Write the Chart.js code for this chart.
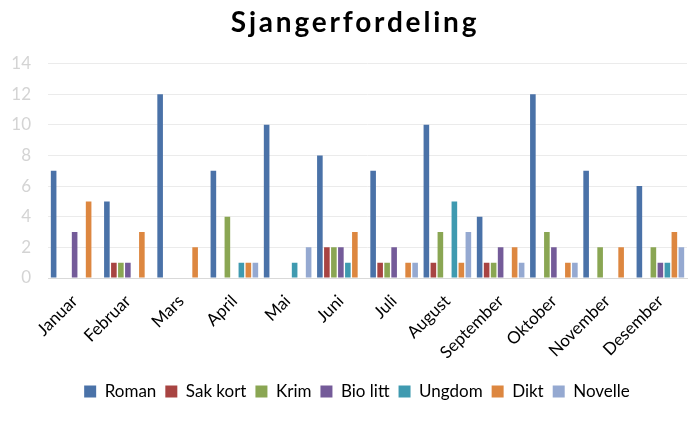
<!DOCTYPE html>
<html>
<head>
<meta charset="utf-8">
<script src="https://cdn.jsdelivr.net/npm/chart.js@4"></script>
<style>
html,body{margin:0;padding:0;background:#fff;}
#wrap{width:693px;height:423px;}
</style>
</head>
<body>
<div id="wrap"><canvas id="c" width="693" height="423"></canvas></div>
<script>
const months = ["Januar","Februar","Mars","April","Mai","Juni","Juli","August","September","Oktober","November","Desember"];
const roman   = [7,5,12,7,10,8,7,10,4,12,7,6];
const sakKort = [0,1,0,0,0,2,1,1,1,0,0,0];
const krim    = [0,1,0,4,0,2,1,3,1,3,2,2];
const bioLitt = [3,1,0,0,0,2,2,0,2,2,0,1];
const ungdom  = [0,0,0,1,1,1,0,5,0,0,0,1];
const dikt    = [5,3,2,1,0,3,1,1,2,1,2,3];
const novelle = [0,0,0,1,2,0,1,3,1,1,0,2];
const yTicks  = [0,2,4,6,8,10,12,14];

const series = [
  {label:"Roman", data:roman, color:"#4A72A8"},
  {label:"Sak kort", data:sakKort, color:"#A84442"},
  {label:"Krim", data:krim, color:"#8AA653"},
  {label:"Bio litt", data:bioLitt, color:"#745B99"},
  {label:"Ungdom", data:ungdom, color:"#3F9AB0"},
  {label:"Dikt", data:dikt, color:"#DD8740"},
  {label:"Novelle", data:novelle, color:"#95A9D1"}
];

const shiftBlocks = {
  id: 'shiftBlocks',
  afterInit(chart) {
    const wrap = (blk, dx, dy, spacing) => {
      if (!blk) return;
      const orig = blk.draw;
      blk.draw = function() {
        const ctx = this.ctx;
        ctx.save();
        ctx.translate(dx, dy);
        if (spacing) ctx.letterSpacing = spacing;
        orig.apply(this, arguments);
        ctx.restore();
      };
    };
    wrap(chart.titleBlock, 6, 1, '2.8px');
    wrap(chart.legend, 8, 0, null);
  }
};

new Chart(document.getElementById('c'), {
  type: 'bar',
  data: {
    labels: months,
    datasets: series.map(s => ({
      label: s.label, data: s.data,
      backgroundColor: s.color, borderWidth: 0,
      categoryPercentage: 0.92, barPercentage: 0.8
    }))
  },
  plugins: [shiftBlocks],
  options: {
    responsive: false,
    animation: false,
    layout: {padding: {left: 11, right: 6, top: 0, bottom: 13}},
    plugins: {
      title: {
        display: true, text: "Sjangerfordeling",
        color: "#000", font: {family: "Lato", size: 28, weight: "bold"},
        padding: {top: 5, bottom: 25}
      },
      legend: {
        position: 'bottom',
        labels: {
          color: "#000", font: {family: "Lato", size: 17},
          boxWidth: 12, boxHeight: 12, padding: 9
        }
      },
      tooltip: {enabled: false}
    },
    scales: {
      x: {
        grid: {display: false},
        border: {color: "#D9D9D9"},
        ticks: {
          color: "#000", font: {family: "Lato", size: 17},
          maxRotation: 45, minRotation: 45, autoSkip: false, padding: 5
        },
        afterFit: ax => { ax.height = 96; ax.paddingLeft = 0; ax.paddingRight = 0; }
      },
      y: {
        min: 0, max: 14,
        afterBuildTicks: ax => { ax.ticks = yTicks.map(v => ({value: v})); },
        grid: {color: "#EBEBEB", drawTicks: false},
        border: {display: false},
        ticks: {color: "#D4D4D4", font: {family: "Lato", size: 17}, padding: 17},
        afterFit: ax => { ax.width = 37; }
      }
    }
  }
});
</script>
</body>
</html>
